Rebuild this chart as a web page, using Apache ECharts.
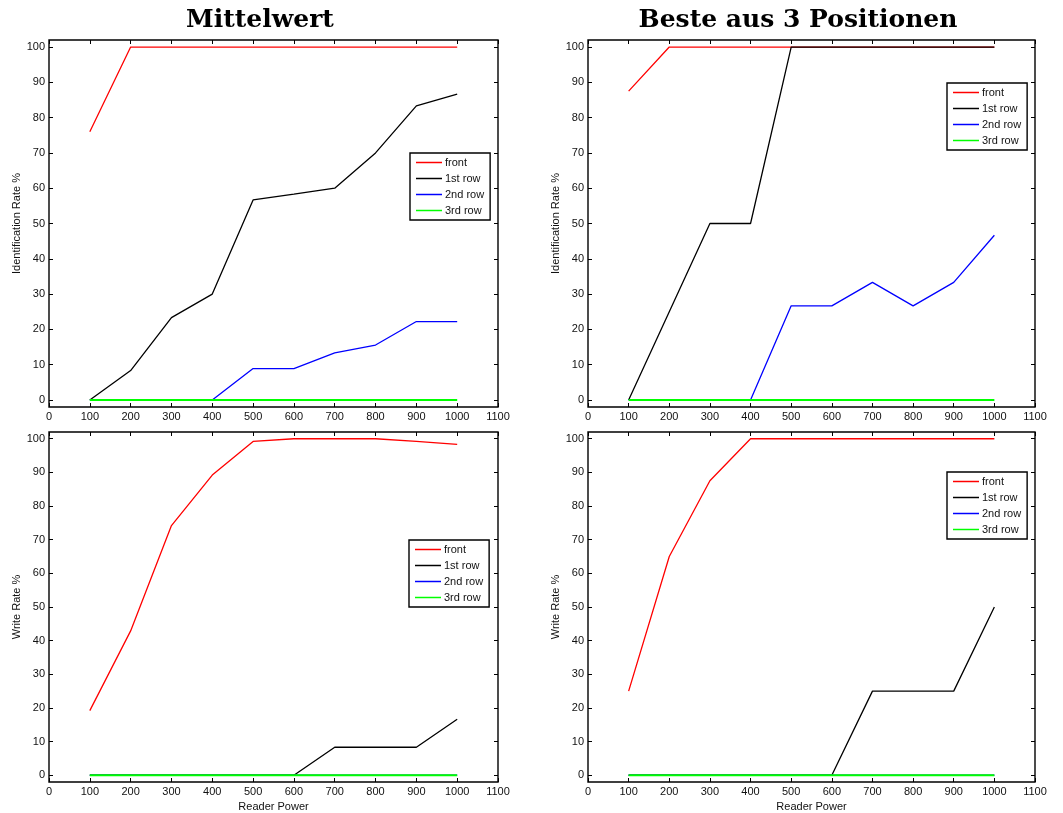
<!DOCTYPE html>
<html><head><meta charset="utf-8">
<script src="https://cdn.jsdelivr.net/npm/echarts@6/dist/echarts.min.js"></script>
<style>html,body{margin:0;padding:0;background:#fff}#c{width:1063px;height:813px}</style>
</head><body><div id="c"></div>
<script>
// ---- data ----
const readerPower = [100, 200, 300, 400, 500, 600, 700, 800, 900, 1000];
const yTickValues = [0, 10, 20, 30, 40, 50, 60, 70, 80, 90, 100];
const seriesNames = ['front', '1st row', '2nd row', '3rd row'];
const seriesColors = ['#ff0000', '#000000', '#0000ff', '#00ff00'];
const panelTitles = ['Mittelwert', 'Beste aus 3 Positionen'];

// Mittelwert – Identification Rate
const mwIdFront = [76, 100, 100, 100, 100, 100, 100, 100, 100, 100];
const mwId1st   = [0, 8.33, 23.33, 30, 56.67, 58.33, 60, 70, 83.33, 86.67];
const mwId2nd   = [0, 0, 0, 0, 8.89, 8.89, 13.33, 15.56, 22.22, 22.22];
const mwId3rd   = [0, 0, 0, 0, 0, 0, 0, 0, 0, 0];
// Beste aus 3 – Identification Rate
const b3IdFront = [87.5, 100, 100, 100, 100, 100, 100, 100, 100, 100];
const b3Id1st   = [0, 25, 50, 50, 100, 100, 100, 100, 100, 100];
const b3Id2nd   = [0, 0, 0, 0, 26.67, 26.67, 33.33, 26.67, 33.33, 46.67];
const b3Id3rd   = [0, 0, 0, 0, 0, 0, 0, 0, 0, 0];
// Mittelwert – Write Rate
const mwWrFront = [19.2, 42.9, 74.2, 89.2, 99.2, 100, 100, 100, 99.2, 98.3];
const mwWr1st   = [0, 0, 0, 0, 0, 0, 8.33, 8.33, 8.33, 16.67];
const mwWr2nd   = [0, 0, 0, 0, 0, 0, 0, 0, 0, 0];
const mwWr3rd   = [0, 0, 0, 0, 0, 0, 0, 0, 0, 0];
// Beste aus 3 – Write Rate
const b3WrFront = [25, 65, 87.5, 100, 100, 100, 100, 100, 100, 100];
const b3Wr1st   = [0, 0, 0, 0, 0, 0, 25, 25, 25, 50];
const b3Wr2nd   = [0, 0, 0, 0, 0, 0, 0, 0, 0, 0];
const b3Wr3rd   = [0, 0, 0, 0, 0, 0, 0, 0, 0, 0];

const panelData = [
  [mwIdFront, mwId1st, mwId2nd, mwId3rd],
  [b3IdFront, b3Id1st, b3Id2nd, b3Id3rd],
  [mwWrFront, mwWr1st, mwWr2nd, mwWr3rd],
  [b3WrFront, b3Wr1st, b3Wr2nd, b3Wr3rd]
];
const yNames = ['Identification Rate %', 'Identification Rate %', 'Write Rate %', 'Write Rate %'];
const xNames = ['', '', 'Reader Power', 'Reader Power'];

// ---- layout ----
const grids = [
  {left: 49, top: 40, width: 449, height: 367},
  {left: 588, top: 40, width: 447, height: 367},
  {left: 49, top: 432, width: 449, height: 351},
  {left: 588, top: 432, width: 447, height: 351}
];
const legendPos = [
  {left: 410, top: 153}, {left: 947, top: 83},
  {left: 409, top: 540}, {left: 947, top: 472}
];
const lineWidths = [1.3, 1.3, 1.3, 2];
const FONT = 'Liberation Sans, Arial, Helvetica, sans-serif';
const TITLE_FONT = 'bold 25px "DejaVu Serif", serif';

const option = {
  animation: false,
  backgroundColor: '#fff',
  grid: grids.map(g => Object.assign({show: true, borderColor: '#000', borderWidth: 1.4, containLabel: false}, g)),
  xAxis: [], yAxis: [], series: [], legend: [],
  graphic: [
    {type: 'text', x: 260, y: 20, style: {text: panelTitles[0], font: TITLE_FONT, fill: '#000', textAlign: 'center', textVerticalAlign: 'middle'}},
    {type: 'text', x: 798, y: 20, style: {text: panelTitles[1], font: TITLE_FONT, fill: '#000', textAlign: 'center', textVerticalAlign: 'middle'}}
  ]
};

const fmt = v => String(v);
for (let p = 0; p < 4; p++) {
  const tick = {show: true, inside: true, length: 4, lineStyle: {color: '#000', width: 1}};
  const line = {show: false, onZero: false};
  option.xAxis.push({
    gridIndex: p, type: 'value', min: 0, max: 1100, interval: 100, position: 'bottom',
    axisLine: line, splitLine: {show: false}, axisTick: tick,
    axisLabel: {color: '#111', fontSize: 11, fontFamily: FONT, margin: 4, formatter: fmt},
    name: xNames[p], nameLocation: 'middle', nameGap: 19,
    nameTextStyle: {color: '#111', fontSize: 11, fontFamily: FONT}
  });
  option.xAxis.push({
    gridIndex: p, type: 'value', min: 0, max: 1100, interval: 100, position: 'top',
    axisLine: line, splitLine: {show: false}, axisTick: tick, axisLabel: {show: false}
  });
  option.yAxis.push({
    gridIndex: p, type: 'value', min: -2, max: 102, position: 'left',
    axisLine: line, splitLine: {show: false},
    axisTick: Object.assign({customValues: yTickValues}, tick),
    axisLabel: {customValues: yTickValues, color: '#111', fontSize: 11, fontFamily: FONT, margin: 4, formatter: fmt},
    name: yNames[p], nameLocation: 'middle', nameGap: 27,
    nameTextStyle: {color: '#111', fontSize: 11, fontFamily: FONT}
  });
  option.yAxis.push({
    gridIndex: p, type: 'value', min: -2, max: 102, position: 'right',
    axisLine: line, splitLine: {show: false},
    axisTick: Object.assign({customValues: yTickValues}, tick),
    axisLabel: {show: false}
  });
  for (let s = 0; s < 4; s++) {
    option.series.push({
      type: 'line', name: seriesNames[s], xAxisIndex: 2 * p, yAxisIndex: 2 * p,
      data: readerPower.map((x, i) => [x, panelData[p][s][i]]),
      symbol: 'none', color: seriesColors[s],
      lineStyle: {color: seriesColors[s], width: lineWidths[s]},
      emphasis: {disabled: true}, z: 2 + s
    });
  }
  option.legend.push(Object.assign({
    orient: 'vertical', data: seriesNames, selectedMode: false, icon: 'rect',
    backgroundColor: '#fff', borderColor: '#000', borderWidth: 1.4, borderRadius: 0,
    padding: [4, 6, 4, 6], itemWidth: 26, itemHeight: 1.5, itemGap: 5,
    textStyle: {color: '#111', fontSize: 11, fontFamily: FONT, padding: [0, 0, 0, -2]}
  }, legendPos[p]));
}

const chart = echarts.init(document.getElementById('c'), null, {renderer: 'canvas'});
chart.setOption(option);
</script>
</body></html>
